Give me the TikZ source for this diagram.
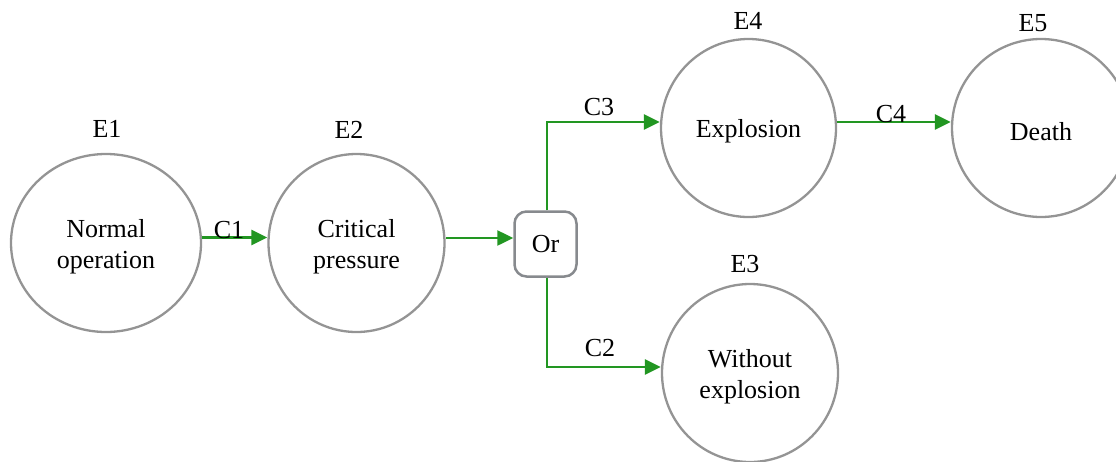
\documentclass[tikz,border=0pt]{standalone}
\usepackage{fontspec}
\setmainfont{Liberation Serif}
\usetikzlibrary{shapes.geometric,arrows.meta}
\definecolor{ringgray}{RGB}{148,148,148}
\definecolor{boxgray}{RGB}{135,138,142}
\definecolor{linkgreen}{RGB}{34,150,34}
\tikzset{
  event/.style={ellipse, draw=ringgray, line width=2.3pt, inner sep=0pt},
  evtext/.style={align=center, inner sep=0pt, yshift=-3.5pt,
    font=\fontsize{26}{30.5}\selectfont},
  gate/.style={rectangle, rounded corners=12pt, draw=boxgray, line width=2.5pt,
    minimum width=62pt, minimum height=65pt, inner sep=0pt,
    font=\fontsize{26}{30.5}\selectfont},
  tag/.style={anchor=base, inner sep=0pt, font=\fontsize{26}{30.5}\selectfont},
  link/.style={draw=linkgreen, line width=2.5pt,
    -{Triangle[length=16pt,width=15pt]}, color=linkgreen}
}
\begin{document}
\begin{tikzpicture}[x=1pt,y=-1pt]
\useasboundingbox (0,0) rectangle (1116,461);

% events
\node[event, minimum width=190pt, minimum height=178pt,
  label={[evtext]center:Normal\\operation}] (E1) at (106,243) {};
\node[event, minimum width=176pt, minimum height=178pt,
  label={[evtext]center:Critical\\pressure}] (E2) at (356.5,243) {};
\node[event, minimum width=175pt, minimum height=178pt,
  label={[evtext]center:Explosion}] (E4) at (748.5,128) {};
\node[event, minimum width=178pt, minimum height=178pt,
  label={[evtext]center:Death}] (E5) at (1041,128) {};
\node[event, minimum width=176pt, minimum height=178pt,
  label={[evtext]center:Without\\explosion}] (E3) at (750,373) {};

% or gate
\node[gate] (Or) at (545.5,244) {Or};

% event names
\node[tag] (t1) at (107,137) {E1};
\node[tag] (t2) at (349,138) {E2};
\node[tag] (t4) at (748,29) {E4};
\node[tag] (t5) at (1033,31) {E5};
\node[tag] (t3) at (745,272) {E3};

% connectors
\draw[link] ([yshift=5.5pt]E1.east) -- ([yshift=5.5pt]E2.west);
\draw[link] ([yshift=5pt]E2.east) -- ([yshift=5pt]E2.east -| Or.west);
\draw[link] ([xshift=1.5pt]Or.north) |- ([yshift=6pt]E4.west);
\draw[link] ([xshift=1.5pt]Or.south) |- ([yshift=6pt]E3.west);
\draw[link] ([yshift=6pt]E4.east) -- ([yshift=6pt]E5.west);

% connector names
\node[tag] (c1) at (229,238) {C1};
\node[tag] (c3) at (599,115) {C3};
\node[tag] (c2) at (600,356) {C2};
\node[tag] (c4) at (891,122) {C4};
\end{tikzpicture}
\end{document}
